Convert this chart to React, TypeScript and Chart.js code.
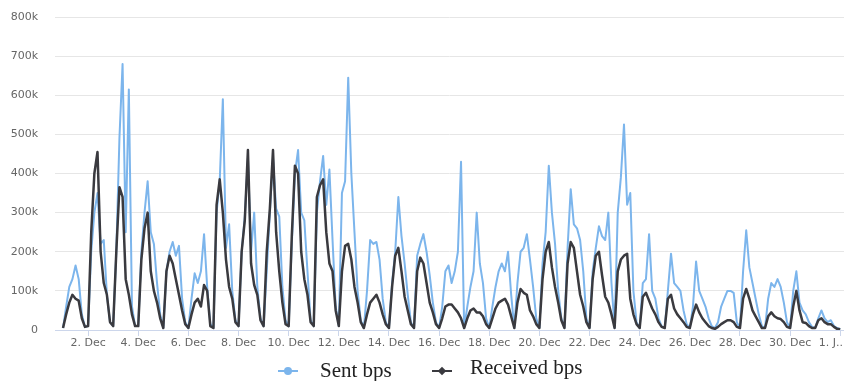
import React, { useEffect, useRef } from "react";
import { Chart, registerables } from "chart.js";

Chart.register(...registerables);

// Samples every 3 hours starting 1 Dec 00:00 (values in k bps)
const SAMPLES_PER_DAY = 8;

const sentK: number[] = [
  5, 60, 110, 130, 165, 130, 40, 8, // 1 Dec
  10, 200, 300, 350, 220, 230, 90, 20, // 2 Dec
  10, 200, 490, 680, 250, 615, 60, 10, // 3 Dec
  10, 200, 300, 380, 250, 220, 120, 40, // 4 Dec
  5, 150, 200, 225, 190, 215, 80, 20, // 5 Dec
  5, 80, 145, 120, 150, 245, 110, 15, // 6 Dec
  5, 300, 380, 590, 210, 270, 100, 25, // 7 Dec
  10, 200, 290, 440, 200, 300, 110, 30, // 8 Dec
  10, 150, 300, 440, 310, 290, 110, 25, // 9 Dec
  10, 220, 400, 460, 300, 280, 150, 25, // 10 Dec
  10, 300, 380, 445, 320, 410, 230, 60, // 11 Dec
  10, 350, 380, 645, 400, 250, 100, 25, // 12 Dec
  5, 100, 230, 220, 225, 180, 80, 20, // 13 Dec
  5, 120, 200, 340, 240, 170, 90, 20, // 14 Dec
  5, 190, 220, 245, 200, 140, 70, 20, // 15 Dec
  5, 60, 150, 165, 120, 150, 200, 430, // 16 Dec
  5, 60, 110, 150, 300, 170, 120, 30, // 17 Dec
  5, 60, 110, 150, 170, 150, 200, 90, // 18 Dec
  5, 120, 200, 210, 245, 180, 110, 30, // 19 Dec
  5, 170, 250, 420, 300, 220, 100, 30, // 20 Dec
  5, 210, 360, 270, 260, 230, 150, 30, // 21 Dec
  5, 150, 210, 265, 240, 230, 300, 120, // 22 Dec
  5, 300, 390, 525, 320, 350, 100, 20, // 23 Dec
  5, 120, 130, 245, 100, 80, 30, 10, // 24 Dec
  5, 100, 195, 120, 110, 100, 50, 15, // 25 Dec
  5, 60, 175, 100, 80, 60, 30, 10, // 26 Dec
  5, 20, 60, 80, 100, 100, 95, 20, // 27 Dec
  5, 150, 255, 160, 120, 80, 40, 10, // 28 Dec
  5, 80, 120, 110, 130, 110, 70, 20, // 29 Dec
  5, 100, 150, 70, 50, 40, 20, 8, // 30 Dec
  5, 30, 50, 30, 20, 25, 10, 5, // 31 Dec
  2, // 1 Jan
];

const receivedK: number[] = [
  5, 40, 70, 90, 80, 75, 30, 8, // 1 Dec
  10, 250, 400, 455, 200, 120, 90, 20, // 2 Dec
  10, 200, 365, 340, 130, 90, 40, 10, // 3 Dec
  10, 180, 260, 300, 150, 100, 70, 30, // 4 Dec
  5, 150, 190, 170, 130, 90, 50, 15, // 5 Dec
  5, 40, 70, 80, 60, 115, 100, 10, // 6 Dec
  5, 320, 385, 300, 180, 110, 80, 20, // 7 Dec
  10, 200, 280, 460, 170, 115, 90, 25, // 8 Dec
  10, 200, 310, 460, 250, 150, 70, 15, // 9 Dec
  10, 240, 420, 400, 200, 130, 90, 20, // 10 Dec
  10, 340, 370, 385, 250, 170, 150, 50, // 11 Dec
  10, 150, 215, 220, 180, 110, 70, 20, // 12 Dec
  5, 40, 70, 80, 90, 70, 40, 15, // 13 Dec
  5, 110, 190, 210, 150, 85, 50, 15, // 14 Dec
  5, 150, 185, 170, 120, 70, 45, 15, // 15 Dec
  5, 30, 60, 65, 65, 55, 45, 30, // 16 Dec
  5, 30, 50, 55, 45, 45, 35, 15, // 17 Dec
  5, 30, 55, 70, 75, 80, 65, 35, // 18 Dec
  5, 70, 105, 95, 90, 50, 35, 15, // 19 Dec
  5, 130, 200, 225, 160, 110, 70, 25, // 20 Dec
  5, 170, 225, 210, 150, 90, 60, 20, // 21 Dec
  5, 130, 190, 200, 140, 85, 70, 40, // 22 Dec
  5, 150, 180, 190, 195, 80, 40, 15, // 23 Dec
  5, 85, 95, 75, 55, 40, 20, 8, // 24 Dec
  5, 80, 90, 55, 40, 30, 20, 8, // 25 Dec
  5, 40, 65, 45, 30, 20, 10, 5, // 26 Dec
  3, 8, 15, 20, 25, 25, 20, 8, // 27 Dec
  5, 80, 105, 80, 50, 35, 20, 5, // 28 Dec
  5, 35, 45, 35, 30, 28, 20, 8, // 29 Dec
  5, 60, 100, 50, 20, 18, 10, 5, // 30 Dec
  5, 25, 30, 20, 15, 15, 8, 3, // 31 Dec
  2, // 1 Jan
];

const seriesNames = ["Sent bps", "Received bps"];
const seriesColors = ["#7cb5ec", "#3a3a3f"];

const yTickValues = [0, 100000, 200000, 300000, 400000, 500000, 600000, 700000, 800000];
const xTickDays = [1, 3, 5, 7, 9, 11, 13, 15, 17, 19, 21, 23, 25, 27, 29, 31];
const xTickLabels = [
  "2. Dec", "4. Dec", "6. Dec", "8. Dec", "10. Dec", "12. Dec", "14. Dec", "16. Dec",
  "18. Dec", "20. Dec", "22. Dec", "24. Dec", "26. Dec", "28. Dec", "30. Dec", "1. J..",
];

const AXIS_FONT = { family: "DejaVu Sans", size: 11 };
const X_TICK_LEN = 6;
const X_TICK_PAD = 1;

const toPoints = (arr: number[]) =>
  arr.map((v, i) => ({ x: i / SAMPLES_PER_DAY, y: v * 1000 }));

const lastLabelPlugin = {
  id: "lastXLabel",
  afterDraw(chart: any) {
    const xs = chart.scales.x;
    const ctx = chart.ctx;
    ctx.save();
    ctx.font = `${AXIS_FONT.size}px "${AXIS_FONT.family}"`;
    ctx.fillStyle = "#666666";
    ctx.textAlign = "right";
    ctx.textBaseline = "middle";
    ctx.fillText(
      xTickLabels[xTickLabels.length - 1],
      chart.width - 1,
      xs.top + X_TICK_LEN + X_TICK_PAD + (AXIS_FONT.size * 1.2) / 2
    );
    ctx.restore();
  },
};

export default function App() {
  const ref = useRef<HTMLCanvasElement | null>(null);

  useEffect(() => {
    document.body.style.margin = "0";
    if (!ref.current) return;
    const chart = new Chart(ref.current, {
      type: "line",
      data: {
        datasets: [
          {
            label: seriesNames[1],
            data: toPoints(receivedK),
            borderColor: seriesColors[1],
            backgroundColor: seriesColors[1],
            borderWidth: 2.5,
          },
          {
            label: seriesNames[0],
            data: toPoints(sentK),
            borderColor: seriesColors[0],
            backgroundColor: seriesColors[0],
            borderWidth: 2,
          },
        ],
      },
      options: {
        responsive: false,
        animation: false,
        devicePixelRatio: 1,
        layout: { padding: { top: 17, left: 0, right: 0, bottom: 0 } },
        elements: {
          point: { radius: 0, hoverRadius: 0 },
          line: { tension: 0, borderJoinStyle: "round" as any },
        },
        plugins: {
          legend: { display: false },
          tooltip: { enabled: false },
        },
        scales: {
          x: {
            type: "linear",
            min: -0.32,
            max: 31.15,
            afterBuildTicks: (s: any) => {
              s.ticks = xTickDays.map((v) => ({ value: v }));
            },
            afterFit: (s: any) => {
              s.height = 51;
              s.paddingLeft = 0;
              s.paddingRight = 0;
            },
            ticks: {
              autoSkip: false,
              maxRotation: 0,
              minRotation: 0,
              padding: X_TICK_PAD,
              color: "#666666",
              font: AXIS_FONT,
              callback: (_v: any, i: number) =>
                i === xTickLabels.length - 1 ? "" : xTickLabels[i],
            },
            grid: {
              display: true,
              drawOnChartArea: false,
              drawTicks: true,
              tickLength: X_TICK_LEN,
              color: "#ccd6eb",
            },
            border: { display: true, color: "#ccd6eb", width: 1 },
          },
          y: {
            type: "linear",
            min: 0,
            max: 800000,
            afterBuildTicks: (s: any) => {
              s.ticks = yTickValues.map((v) => ({ value: v }));
            },
            afterFit: (s: any) => {
              s.width = 55;
              s.paddingTop = 0;
              s.paddingBottom = 0;
            },
            ticks: {
              padding: 17,
              color: "#666666",
              font: AXIS_FONT,
              callback: (v: any) => (v === 0 ? "0" : `${v / 1000}k`),
            },
            grid: { color: "#e6e6e6", drawTicks: false },
            border: { display: false },
          },
        },
      },
      plugins: [lastLabelPlugin],
    });
    return () => chart.destroy();
  }, []);

  const legendText: React.CSSProperties = {
    position: "absolute",
    fontFamily: '"Liberation Serif", "Times New Roman", serif',
    fontSize: 21,
    lineHeight: "20px",
    color: "#222222",
    whiteSpace: "nowrap",
  };

  return (
    <div style={{ position: "relative", width: 844, height: 381, background: "#ffffff" }}>
      <canvas ref={ref} width={844} height={381} style={{ display: "block" }} />
      {/* Sent bps legend item */}
      <div style={{ position: "absolute", left: 278, top: 370, width: 20, height: 2, background: seriesColors[0] }} />
      <div
        style={{
          position: "absolute",
          left: 284,
          top: 367,
          width: 8,
          height: 8,
          borderRadius: "50%",
          background: seriesColors[0],
        }}
      />
      <div style={{ ...legendText, left: 320, top: 360 }}>{seriesNames[0]}</div>
      {/* Received bps legend item */}
      <div style={{ position: "absolute", left: 432, top: 370, width: 20, height: 2, background: seriesColors[1] }} />
      <div
        style={{
          position: "absolute",
          left: 439,
          top: 368,
          width: 6,
          height: 6,
          transform: "rotate(45deg)",
          background: seriesColors[1],
        }}
      />
      <div style={{ ...legendText, left: 470, top: 357 }}>{seriesNames[1]}</div>
    </div>
  );
}
